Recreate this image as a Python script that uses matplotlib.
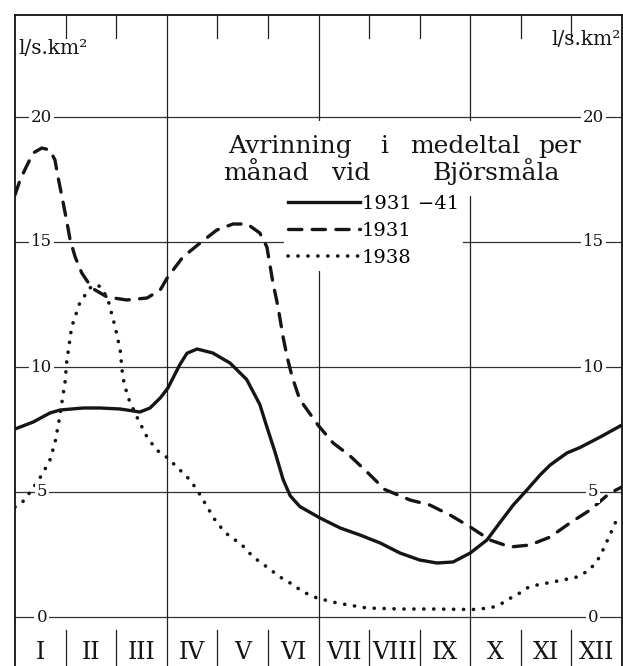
import matplotlib
matplotlib.use("Agg")
import matplotlib.pyplot as plt
from matplotlib.lines import Line2D
from matplotlib.patches import Rectangle

# ---------------- data ----------------
months = ["I", "II", "III", "IV", "V", "VI", "VII", "VIII", "IX", "X", "XI", "XII"]
y_ticks = [0, 5, 10, 15, 20]
unit_label = "l/s.km²"
title_line1 = ["Avrinning", "i", "medeltal", "per"]
title_line2 = ["månad", "vid", "Björsmåla"]
series_labels = ["1931 −41", "1931", "1938"]

# month position (0 = start of January, 12 = end of December), runoff l/s.km2
mean_x = [0, 0.36, 0.69, 0.89, 1.35, 1.68, 2.08, 2.47, 2.67, 2.87, 3.02, 3.26, 3.4,
          3.6, 3.91, 4.25, 4.58, 4.84, 4.98, 5.14, 5.3, 5.44, 5.63, 6.03, 6.43,
          6.82, 7.22, 7.61, 8.0, 8.34, 8.66, 9.0, 9.33, 9.58, 9.85, 10.12, 10.38,
          10.58, 10.91, 11.17, 11.57, 12.0]
mean_y = [7.52, 7.8, 8.16, 8.28, 8.36, 8.36, 8.32, 8.2, 8.36, 8.76, 9.15, 10.1, 10.55,
          10.72, 10.56, 10.16, 9.5, 8.5, 7.6, 6.6, 5.5, 4.85, 4.42, 3.96, 3.56,
          3.28, 2.96, 2.56, 2.28, 2.16, 2.2, 2.56, 3.08, 3.76, 4.48, 5.08, 5.68,
          6.08, 6.56, 6.78, 7.2, 7.68]

y1931_x = [0, 0.1, 0.24, 0.36, 0.53, 0.69, 0.79, 0.85, 0.93, 1.03, 1.09, 1.19, 1.32,
           1.52, 1.82, 2.21, 2.61, 2.87, 3.02, 3.32, 3.66, 3.99, 4.31, 4.59, 4.84,
           4.98, 5.1, 5.2, 5.3, 5.38, 5.48, 5.63, 6.0, 6.29, 6.62, 6.96, 7.31,
           7.81, 8.2, 8.6, 9.0, 9.39, 9.79, 10.18, 10.58, 10.97, 11.37, 11.76, 12.0]
y1931_y = [16.88, 17.48, 18.08, 18.56, 18.76, 18.68, 18.28, 17.6, 16.8, 15.76, 15.08, 14.4, 13.76,
           13.16, 12.8, 12.68, 12.76, 13.08, 13.6, 14.4, 14.96, 15.48, 15.72, 15.72, 15.36,
           14.8, 13.36, 12.4, 11.2, 10.4, 9.6, 8.7, 7.65, 6.96, 6.45, 5.8, 5.1,
           4.68, 4.48, 4.08, 3.6, 3.08, 2.8, 2.88, 3.2, 3.76, 4.28, 4.96, 5.2]

y1938_x = [0, 0.13, 0.33, 0.53, 0.69, 0.79, 0.88, 0.99, 1.02, 1.12, 1.28, 1.48, 1.62,
           1.72, 1.84, 1.98, 2.08, 2.13, 2.23, 2.41, 2.61, 2.8, 3.02, 3.26, 3.46,
           3.6, 3.99, 4.25, 4.45, 4.71, 4.98, 5.24, 5.44, 5.7, 5.97, 6.28, 6.48,
           6.96, 7.61, 8.26, 9.05, 9.39, 9.58, 9.72, 9.92, 10.12, 10.32, 10.63, 10.83,
           11.11, 11.36, 11.56, 11.76, 11.94]
y1938_y = [4.4, 4.55, 5.08, 5.68, 6.28, 6.96, 7.96, 9.41, 10.16, 11.6, 12.56, 13.16, 13.3,
           13.15, 12.68, 11.6, 10.68, 9.6, 8.8, 8.0, 7.2, 6.68, 6.36, 5.88, 5.48,
           5.08, 3.76, 3.2, 2.96, 2.4, 2.0, 1.6, 1.36, 1.0, 0.76, 0.6, 0.52,
           0.36, 0.32, 0.32, 0.3, 0.36, 0.48, 0.68, 0.88, 1.16, 1.28, 1.4, 1.48,
           1.6, 1.88, 2.4, 3.28, 4.1]

# ---------------- figure ----------------
W, H = 623, 666
fig = plt.figure(figsize=(W / 100, H / 100), dpi=100)
fig.patch.set_facecolor("white")
ax = fig.add_axes([15 / W, 0, 607 / W, 651 / H])
ax.set_xlim(0, 12)
ax.set_ylim(-1.96, 24.08)
ax.set_xticks([])
ax.set_yticks([])
for s in ["left", "right", "top"]:
    ax.spines[s].set_linewidth(1.3)
    ax.spines[s].set_color("#111111")
ax.spines["bottom"].set_visible(False)

ink = "#151515"
serif = "DejaVu Serif"

def px2data(px, py):
    return (px - 15) / 50.58, (617 - py) / 25.0

# horizontal rules
for v in y_ticks:
    ax.axhline(v, color="#333333", lw=0.9, zorder=1)

# month boundaries: full lines every quarter, short marks otherwise
span = 24.08 + 1.96
for b in range(1, 12):
    if b % 3 == 0:
        ax.axvline(b, color="#222222", lw=0.9, zorder=1)
    else:
        ax.axvline(b, ymin=(23.16 + 1.96) / span, ymax=1, color="#222222", lw=0.9, zorder=1)
        ax.axvline(b, ymin=0, ymax=(-0.52 + 1.96) / span, color="#222222", lw=0.9, zorder=1)

# month labels
for i, m in enumerate(months):
    ax.text(i + 0.5, -1.42, m, ha="center", va="center", family=serif,
            fontsize=17, color=ink, zorder=5)

# y labels on both sides, interrupting the rules
for v in y_ticks:
    for xx in (0.53, 11.43):
        ax.text(xx, v, str(v), ha="center", va="center", family=serif, fontsize=12,
                color=ink, zorder=5,
                bbox=dict(boxstyle="square,pad=0.12", fc="white", ec="none"))

# units
ax.text(0.06, 22.75, unit_label, ha="left", va="center", family=serif, fontsize=14.5,
        color=ink, zorder=5)
ax.text(11.97, 23.1, unit_label, ha="right", va="center", family=serif, fontsize=14.5,
        color=ink, zorder=5)

# curves
lw = 2.4
ax.plot(mean_x, mean_y, color=ink, lw=lw, solid_capstyle="round",
        solid_joinstyle="round", zorder=3)
ax.plot(y1931_x, y1931_y, color=ink, lw=lw, linestyle=(0, (4.0, 3.1)),
        dash_capstyle="round", dash_joinstyle="round", zorder=3)
ax.plot(y1938_x, y1938_y, color=ink, lw=2.6, linestyle=(0, (0.05, 2.7)),
        dash_capstyle="round", zorder=3)

# white area behind the key title (interrupts the grid, as in the print)
x0, y0 = px2data(205, 196)
x1, y1 = px2data(605, 121)
ax.add_patch(Rectangle((x0, y0), x1 - x0, y1 - y0, fc="white", ec="none", zorder=2))

# key title, word by word (wide letter spacing of the print)
line1_cx = [290, 384, 465, 560]
line2_cx = [266, 351, 496]
for words, cxs, base in ((title_line1, line1_cx, 153), (title_line2, line2_cx, 180)):
    for w, cx in zip(words, cxs):
        tx, ty = px2data(cx, base)
        ax.text(tx, ty, w, ha="center", va="baseline", family=serif,
                fontsize=18, color=ink, zorder=6)

# key
handles = [Line2D([], [], color=ink, lw=lw),
           Line2D([], [], color=ink, lw=lw, linestyle=(0, (4.0, 3.1)), dash_capstyle="round"),
           Line2D([], [], color=ink, lw=2.6, linestyle=(0, (0.05, 2.7)), dash_capstyle="round")]
leg = ax.legend(handles, series_labels, loc="upper left",
                bbox_to_anchor=(284 / W, 1 - 191 / H), bbox_transform=fig.transFigure,
                prop={"family": serif, "size": 14}, frameon=True, fancybox=False,
                handlelength=3.7, handletextpad=0.1, labelspacing=0.46, borderpad=0.2,
                borderaxespad=0)
leg.get_frame().set_facecolor("white")
leg.get_frame().set_edgecolor("none")
leg.get_frame().set_alpha(1)
leg.set_zorder(6)

fig.savefig("out.png", dpi=100, facecolor="white")
